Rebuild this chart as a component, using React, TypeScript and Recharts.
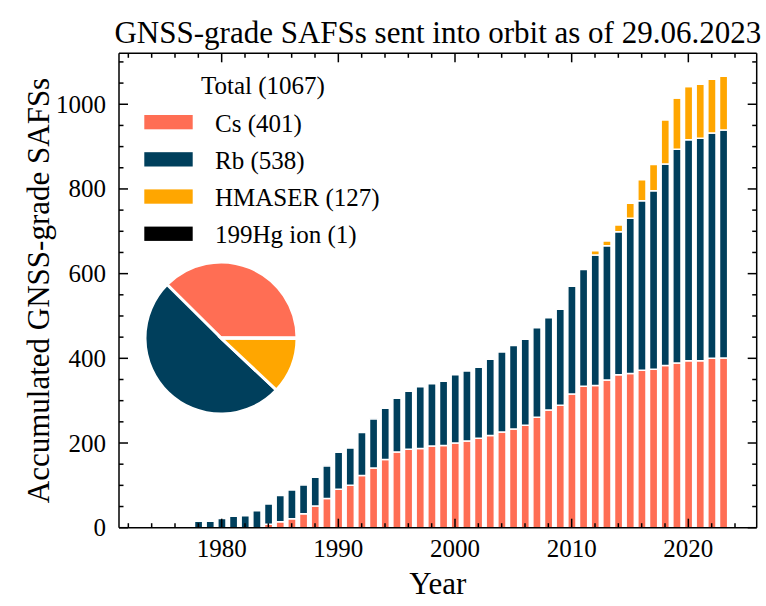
import React from 'react';
import { BarChart, Bar, XAxis, YAxis, Legend, Label, PieChart, Pie, Cell } from 'recharts';

const years = [1978, 1979, 1980, 1981, 1982, 1983, 1984, 1985, 1986, 1987, 1988, 1989, 1990, 1991, 1992, 1993, 1994, 1995, 1996, 1997, 1998, 1999, 2000, 2001, 2002, 2003, 2004, 2005, 2006, 2007, 2008, 2009, 2010, 2011, 2012, 2013, 2014, 2015, 2016, 2017, 2018, 2019, 2020, 2021, 2022, 2023];
const cs = [0, 0, 0, 0, 0, 0, 8, 14, 21, 33, 51, 69, 91, 100, 123, 141, 161, 179, 185, 187, 193, 194, 200, 205, 211, 218, 226, 233, 242, 261, 278, 289, 316, 334, 336, 349, 361, 364, 372, 374, 383, 389, 394, 394, 400, 401];
const rb = [15, 15, 22, 27, 28, 40, 48, 62, 68, 68, 68, 77, 87, 88, 102, 116, 121, 127, 137, 146, 147, 152, 161, 165, 168, 180, 189, 197, 203, 211, 218, 227, 254, 276, 308, 317, 338, 367, 400, 422, 476, 505, 522, 526, 532, 538];
const hmaser = [0, 0, 0, 0, 0, 0, 0, 0, 0, 0, 0, 0, 0, 0, 0, 0, 0, 0, 0, 0, 0, 0, 0, 0, 0, 0, 0, 0, 0, 0, 0, 0, 0, 0, 10, 11, 16, 35, 50, 62, 104, 121, 126, 127, 127, 127];
const hgIon = [0, 0, 0, 0, 0, 0, 0, 0, 0, 0, 0, 0, 0, 0, 0, 0, 0, 0, 0, 0, 0, 0, 0, 0, 0, 0, 0, 0, 0, 0, 0, 0, 0, 0, 0, 0, 0, 0, 0, 0, 0, 1, 1, 1, 1, 1];

const seriesKeys = ['cs', 'rb', 'hm', 'hg'];
const seriesNames = ['Cs', 'Rb', 'HMASER', '199Hg ion'];
const seriesColors = ['#ff6e54', '#003f5c', '#ffa600', '#000000'];
const totals = [401, 538, 127, 1];

const xTicks = [1972, 1974, 1976, 1978, 1980, 1982, 1984, 1986, 1988, 1990, 1992, 1994, 1996, 1998, 2000, 2002, 2004, 2006, 2008, 2010, 2012, 2014, 2016, 2018, 2020, 2022, 2024];
const yTicks = [0, 50, 100, 150, 200, 250, 300, 350, 400, 450, 500, 550, 600, 650, 700, 750, 800, 850, 900, 950, 1000, 1050, 1100];

const title = 'GNSS-grade SAFSs sent into orbit as of 29.06.2023';
const xLabel = 'Year';
const yLabel = 'Accumulated GNSS-grade SAFSs';

const rows = years.map((year, i) => ({ year, cs: cs[i], rb: rb[i], hm: hmaser[i], hg: hgIon[i] }));
const pieData = seriesNames.map((name, i) => ({ name, value: totals[i] }));
const grandTotal = totals.reduce((a, b) => a + b, 0);

const FONT = '"Liberation Serif", "Times New Roman", Times, serif';
const MAJOR = 9;
const MINOR = 4.5;

function BottomTick(props: any) {
  const { x, y, payload } = props;
  const major = payload.value % 10 === 0;
  return (
    <g>
      <line x1={x} x2={x} y1={y} y2={y - (major ? MAJOR : MINOR)} stroke="#000" strokeWidth={1.5} />
      {major ? (
        <text x={x} y={y + 29} textAnchor="middle" fontFamily={FONT} fontSize={25} fill="#000" style={{ fontFamily: FONT }}>
          {payload.value}
        </text>
      ) : null}
    </g>
  );
}

function TopTick(props: any) {
  const { x, y, payload } = props;
  const major = payload.value % 10 === 0;
  return <line x1={x} x2={x} y1={y} y2={y + (major ? MAJOR : MINOR)} stroke="#000" strokeWidth={1.5} />;
}

function LeftTick(props: any) {
  const { x, y, payload } = props;
  const major = payload.value % 200 === 0;
  return (
    <g>
      <line x1={x} x2={x + (major ? MAJOR : MINOR)} y1={y} y2={y} stroke="#000" strokeWidth={1.5} />
      {major ? (
        <text x={x - 13} y={y + 8.5} textAnchor="end" fontFamily={FONT} fontSize={25} fill="#000" style={{ fontFamily: FONT }}>
          {payload.value}
        </text>
      ) : null}
    </g>
  );
}

function RightTick(props: any) {
  const { x, y, payload } = props;
  const major = payload.value % 200 === 0;
  return <line x1={x} x2={x - (major ? MAJOR : MINOR)} y1={y} y2={y} stroke="#000" strokeWidth={1.5} />;
}

function LegendContent() {
  return (
    <svg width={766} height={606} style={{ position: 'absolute', left: 0, top: 0, overflow: 'visible' }}>
      <text x={263} y={94.3} textAnchor="middle" fontFamily={FONT} fontSize={25} fill="#000">
        {`Total (${grandTotal})`}
      </text>
      {seriesNames.map((name, i) => (
        <g key={name}>
          <rect x={144.3} y={115 + i * 37.2} width={48.4} height={14.3} fill={seriesColors[i]} />
          <text x={215} y={131.5 + i * 37.2} fontFamily={FONT} fontSize={25} fill="#000">
            {`${name} (${totals[i]})`}
          </text>
        </g>
      ))}
    </svg>
  );
}

export default function App() {
  return (
    <div style={{ position: 'absolute', left: 0, top: 0, width: 766, height: 606, background: '#fff' }}>
      <BarChart
        width={766}
        height={606}
        data={rows}
        margin={{ top: 52.3, right: 8.3, bottom: 0, left: 0 }}
        barCategoryGap={0}
      >
        <XAxis
          xAxisId="x"
          dataKey="year"
          type="number"
          domain={[1971.2, 2025.86]}
          allowDataOverflow
          ticks={xTicks}
          interval={0}
          height={78.3}
          tickSize={0}
          tickMargin={0}
          tickLine={false}
          axisLine={{ stroke: '#000', strokeWidth: 1.5 }}
          tick={(p: any) => <BottomTick {...p} />}
        >
          <Label
            content={(p: any) => {
              const vb = p.viewBox;
              return (
                <text x={vb.x + vb.width / 2} y={594} textAnchor="middle" fontFamily={FONT} fontSize={31} fill="#000">
                  {xLabel}
                </text>
              );
            }}
          />
        </XAxis>
        <XAxis
          xAxisId="top"
          dataKey="year"
          type="number"
          orientation="top"
          domain={[1971.2, 2025.86]}
          allowDataOverflow
          ticks={xTicks}
          interval={0}
          height={1}
          tickSize={0}
          tickMargin={0}
          tickLine={false}
          axisLine={{ stroke: '#000', strokeWidth: 1.5 }}
          tick={(p: any) => <TopTick {...p} />}
        >
          <Label
            content={(p: any) => {
              const vb = p.viewBox;
              return (
                <text x={vb.x + vb.width / 2} y={43} textAnchor="middle" fontFamily={FONT} fontSize={31} fill="#000">
                  {title}
                </text>
              );
            }}
          />
        </XAxis>
        <YAxis
          yAxisId="y"
          type="number"
          domain={[0, 1120.35]}
          allowDataOverflow
          ticks={yTicks}
          interval={0}
          width={119}
          tickSize={0}
          tickMargin={0}
          tickLine={false}
          axisLine={{ stroke: '#000', strokeWidth: 1.5 }}
          tick={(p: any) => <LeftTick {...p} />}
        >
          <Label
            content={(p: any) => {
              const vb = p.viewBox;
              const cx = 49;
              const cy = vb.y + vb.height / 2;
              return (
                <text
                  x={cx}
                  y={cy}
                  transform={`rotate(-90 ${cx} ${cy})`}
                  textAnchor="middle"
                  fontFamily={FONT}
                  fontSize={31}
                  fill="#000"
                >
                  {yLabel}
                </text>
              );
            }}
          />
        </YAxis>
        <YAxis
          yAxisId="right"
          type="number"
          orientation="right"
          domain={[0, 1120.35]}
          allowDataOverflow
          ticks={yTicks}
          interval={0}
          width={1}
          tickSize={0}
          tickMargin={0}
          tickLine={false}
          axisLine={{ stroke: '#000', strokeWidth: 1.5 }}
          tick={(p: any) => <RightTick {...p} />}
        />
        {seriesKeys.map((key, i) => (
          <Bar
            key={key}
            dataKey={key}
            name={seriesNames[i]}
            xAxisId="x"
            yAxisId="y"
            stackId="all"
            fill={seriesColors[i]}
            stroke="#fff"
            strokeWidth={1.5}
            barSize={8.17}
            isAnimationActive={false}
          />
        ))}
        <Legend
          layout="vertical"
          align="center"
          verticalAlign="middle"
          wrapperStyle={{ position: 'absolute', left: 0, top: 0, width: 766, height: 606, pointerEvents: 'none' }}
          content={() => <LegendContent />}
        />
      </BarChart>
      <div style={{ position: 'absolute', left: 141, top: 258, width: 160, height: 160 }}>
        <PieChart width={160} height={160} margin={{ top: 0, right: 0, bottom: 0, left: 0 }}>
          <Pie
            data={pieData}
            dataKey="value"
            nameKey="name"
            cx={80}
            cy={80}
            innerRadius={0}
            outerRadius={76}
            startAngle={0}
            endAngle={360}
            stroke="#fff"
            strokeWidth={3}
            isAnimationActive={false}
          >
            {pieData.map((d, i) => (
              <Cell key={d.name} fill={seriesColors[i]} />
            ))}
          </Pie>
        </PieChart>
      </div>
    </div>
  );
}
